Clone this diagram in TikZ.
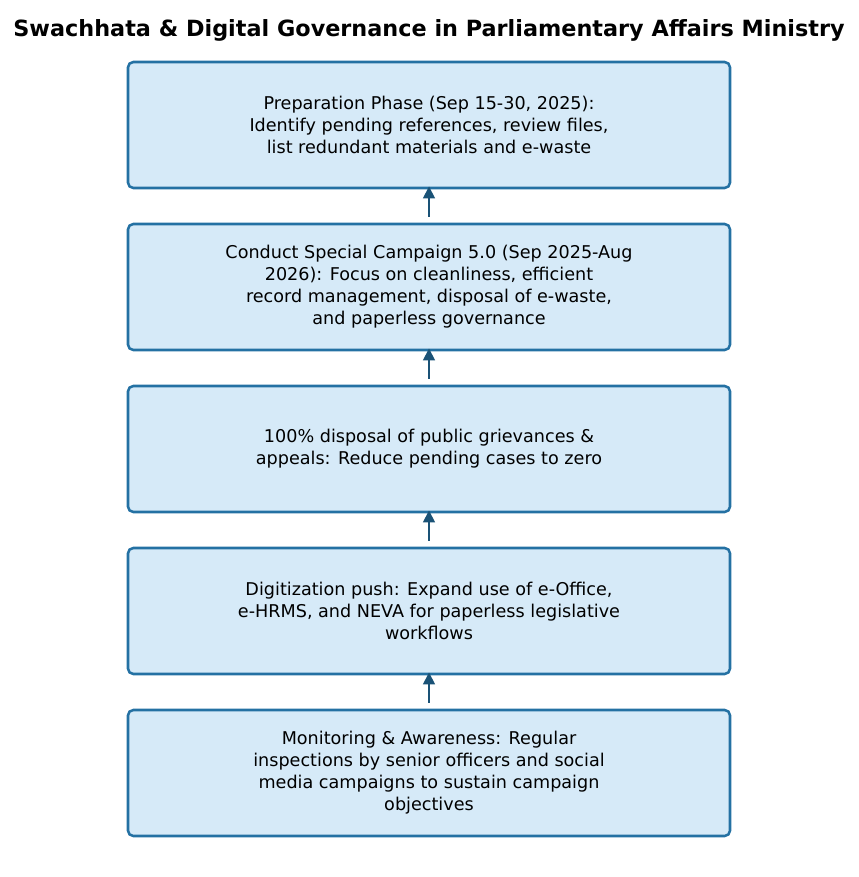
\documentclass[tikz,border=0pt]{standalone}
\usepackage{fontspec}
\setmainfont{DejaVu Sans}
\usetikzlibrary{arrows.meta}
\definecolor{boxfill}{HTML}{D6EAF8}
\definecolor{boxedge}{HTML}{2471A3}
\definecolor{arrcol}{HTML}{1A5276}
\tikzset{
  stepbox/.style={draw=boxedge, fill=boxfill, line width=1.9pt, rounded corners=4pt,
    minimum width=451.5pt, minimum height=94.5pt, align=center, inner sep=0pt,
    font=\fontsize{13.2pt}{16.5pt}\selectfont},
  arr/.style={draw=arrcol, line width=2.2pt, -{Triangle[length=9pt,width=8.5pt]}},
  ttl/.style={font=\bfseries\fontsize{16.75pt}{19pt}\selectfont}
}
\begin{document}
\begin{tikzpicture}[x=0.75pt,y=-0.75pt]
\useasboundingbox (0,0) rectangle (858,877);
\node[ttl] (title) at (429,30) {Swachhata \& Digital Governance in Parliamentary Affairs Ministry};
\node[stepbox] (b1) at (429,125) {Preparation Phase (Sep 15-30, 2025):\\Identify pending references, review files,\\list redundant materials and e-waste};
\node[stepbox] (b2) at (429,287) {Conduct Special Campaign 5.0 (Sep 2025-Aug\\2026): Focus on cleanliness, efficient\\record management, disposal of e-waste,\\and paperless governance};
\node[stepbox] (b3) at (429,449) {100\% disposal of public grievances \&\\appeals: Reduce pending cases to zero};
\node[stepbox] (b4) at (429,611) {Digitization push: Expand use of e-Office,\\e-HRMS, and NEVA for paperless legislative\\workflows};
\node[stepbox] (b5) at (429,773) {Monitoring \& Awareness: Regular\\inspections by senior officers and social\\media campaigns to sustain campaign\\objectives};
\draw[arr] ([yshift=4.5pt]b2.north) -- ([yshift=2.25pt]b1.south);
\draw[arr] ([yshift=4.5pt]b3.north) -- ([yshift=2.25pt]b2.south);
\draw[arr] ([yshift=4.5pt]b4.north) -- ([yshift=2.25pt]b3.south);
\draw[arr] ([yshift=4.5pt]b5.north) -- ([yshift=2.25pt]b4.south);
\end{tikzpicture}
\end{document}
